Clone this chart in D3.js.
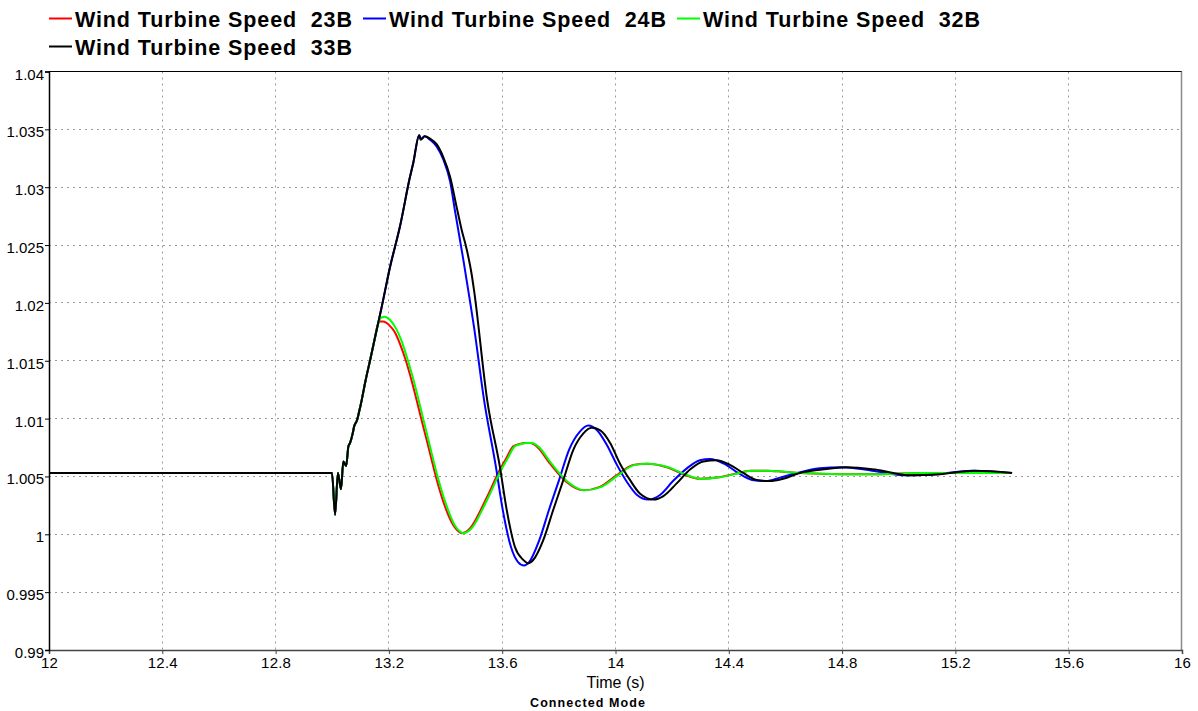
<!DOCTYPE html>
<html>
<head>
<meta charset="utf-8">
<script src="https://cdn.jsdelivr.net/npm/d3@7"></script>
<style>
  html, body { margin: 0; padding: 0; background: #fff; }
  svg { display: block; font-family: "Liberation Sans", Arial, sans-serif; }
</style>
</head>
<body>
<svg id="chart" width="1198" height="711"></svg>
<script>
// ---- data -------------------------------------------------------------
const seriesNames = ["Wind Turbine Speed  23B", "Wind Turbine Speed  24B",
                     "Wind Turbine Speed  32B", "Wind Turbine Speed  33B"];
const seriesColors = ["#ff0000", "#0000ff", "#00ff00", "#000000"];

const xTicks = [12, 12.4, 12.8, 13.2, 13.6, 14, 14.4, 14.8, 15.2, 15.6, 16];
const xTickLabels = ["12", "12.4", "12.8", "13.2", "13.6", "14", "14.4", "14.8", "15.2", "15.6", "16"];
const yTicks = [0.99, 0.995, 1, 1.005, 1.01, 1.015, 1.02, 1.025, 1.03, 1.035, 1.04];
const yTickLabels = ["0.99", "0.995", "1", "1.005", "1.01", "1.015", "1.02", "1.025", "1.03", "1.035", "1.04"];

// common part of all four traces: steady state, fault dip and initial rise
const leadTime  = [12.0, 12.999, 13.010, 13.020, 13.031, 13.039, 13.049, 13.057, 13.063,
                   13.072, 13.077, 13.088, 13.094, 13.104, 13.116, 13.135, 13.150];
const leadSpeed = [1.0053, 1.0053, 1.0017, 1.0053, 1.0039, 1.0063, 1.0059, 1.0076, 1.0079,
                   1.0087, 1.0093, 1.0099, 1.0105, 1.0116, 1.0131, 1.0152, 1.0169];

const time23B  = [13.158, 13.168, 13.179, 13.19, 13.20, 13.22, 13.24, 13.26, 13.28, 13.31,
                  13.339, 13.369, 13.398, 13.427, 13.443, 13.457, 13.472, 13.486, 13.505, 13.522,
                  13.55, 13.592, 13.615, 13.639, 13.66, 13.680, 13.70, 13.722, 13.769, 13.828,
                  13.886, 13.945, 14.004, 14.063, 14.110, 14.181, 14.239, 14.298, 14.357, 14.416,
                  14.475, 14.534, 14.592, 14.651, 14.793, 14.934, 15.075, 15.216, 15.40];
const speed23B = [1.0179, 1.0184, 1.0184, 1.0183, 1.0181, 1.0175, 1.0164, 1.0150, 1.0133, 1.0104,
                  1.0076, 1.0047, 1.0024, 1.0008, 1.0003, 1.0001, 1.0002, 1.0005, 1.0012, 1.0020,
                  1.0034, 1.0056, 1.0066, 1.0076, 1.0078, 1.0079, 1.0079, 1.0076, 1.0061, 1.0045,
                  1.0038, 1.0041, 1.0051, 1.0060, 1.0061, 1.0058, 1.0052, 1.0048, 1.0049, 1.0052,
                  1.0055, 1.0055, 1.0054, 1.0053, 1.0052, 1.0052, 1.0053, 1.0053, 1.0053];

const time32B  = [13.160, 13.172, 13.184, 13.195, 13.205, 13.225, 13.245, 13.265, 13.285, 13.315,
                  13.344, 13.374, 13.403, 13.432, 13.448, 13.462, 13.477, 13.491, 13.510, 13.527,
                  13.555, 13.597, 13.620, 13.644, 13.665, 13.685, 13.705, 13.727, 13.774, 13.833,
                  13.891, 13.950, 14.009, 14.068, 14.115, 14.186, 14.244, 14.303, 14.362, 14.421,
                  14.480, 14.539, 14.597, 14.656, 14.798, 14.939, 15.080, 15.221, 15.40];
const speed32B = [1.0180, 1.0187, 1.0188, 1.0187, 1.0185, 1.0178, 1.0167, 1.0152, 1.0135, 1.0106,
                  1.0077, 1.0048, 1.0025, 1.0008, 1.0003, 1.0001, 1.0002, 1.0005, 1.0012, 1.0020,
                  1.0034, 1.0056, 1.0066, 1.0076, 1.0078, 1.0079, 1.0079, 1.0076, 1.0061, 1.0045,
                  1.0038, 1.0041, 1.0051, 1.0060, 1.0061, 1.0058, 1.0052, 1.0048, 1.0049, 1.0052,
                  1.0055, 1.0055, 1.0054, 1.0053, 1.0052, 1.0052, 1.0053, 1.0053, 1.0053];

const time24B  = [13.175, 13.204, 13.239, 13.2745, 13.286, 13.307, 13.312, 13.327, 13.345, 13.369,
                  13.392, 13.416, 13.433, 13.463, 13.484, 13.50, 13.536, 13.578, 13.602, 13.631,
                  13.656, 13.677, 13.695, 13.731, 13.765, 13.801, 13.836, 13.875, 13.904, 13.935,
                  13.970, 14.005, 14.041, 14.076, 14.116, 14.157, 14.203, 14.252, 14.298, 14.334,
                  14.383, 14.433, 14.482, 14.531, 14.581, 14.641, 14.72, 14.800, 14.906, 15.026,
                  15.135, 15.259, 15.40];
const speed24B = [1.0197, 1.0231, 1.0266, 1.0309, 1.0321, 1.0345, 1.0342, 1.0344, 1.0341, 1.0335,
                  1.0324, 1.0305, 1.0280, 1.0237, 1.0205, 1.0180, 1.0116, 1.0058, 1.0021, 0.9989,
                  0.9976, 0.9973, 0.9976, 0.9995, 1.0021, 1.0047, 1.0073, 1.0089, 1.0094, 1.0090,
                  1.0077, 1.0060, 1.0045, 1.0034, 1.0030, 1.0034, 1.0046, 1.0057, 1.0064, 1.0065,
                  1.0061, 1.0053, 1.0047, 1.0046, 1.0049, 1.0053, 1.0057, 1.0058, 1.0055, 1.0051,
                  1.0052, 1.0055, 1.0053];

const time33B  = [13.175, 13.204, 13.239, 13.2745, 13.286, 13.307, 13.312, 13.327, 13.345, 13.369,
                  13.392, 13.416, 13.439, 13.457, 13.475, 13.492, 13.5005, 13.547, 13.592, 13.616,
                  13.645, 13.674, 13.692, 13.710, 13.745, 13.780, 13.816, 13.851, 13.886, 13.916,
                  13.945, 13.981, 14.016, 14.051, 14.087, 14.134, 14.169, 14.216, 14.263, 14.310,
                  14.357, 14.404, 14.451, 14.498, 14.545, 14.592, 14.651, 14.73, 14.814, 14.916,
                  15.040, 15.146, 15.269, 15.40];
const speed33B = [1.0197, 1.0231, 1.0266, 1.0309, 1.0321, 1.0345, 1.0341, 1.0344, 1.0342, 1.0337,
                  1.0326, 1.0309, 1.0283, 1.0263, 1.0246, 1.0225, 1.0211, 1.0116, 1.0058, 1.0021,
                  0.9989, 0.9978, 0.9975, 0.9978, 0.9995, 1.0021, 1.0047, 1.0073, 1.0087, 1.0092,
                  1.0090, 1.0079, 1.0061, 1.0047, 1.0035, 1.0030, 1.0033, 1.0044, 1.0056, 1.0063,
                  1.0064, 1.0060, 1.0053, 1.0047, 1.0046, 1.0048, 1.0053, 1.0056, 1.0058, 1.0056,
                  1.0051, 1.0052, 1.0055, 1.0053];

const seriesTimes  = [time23B, time24B, time32B, time33B];
const seriesSpeeds = [speed23B, speed24B, speed32B, speed33B];

// ---- layout -----------------------------------------------------------
const svg = d3.select("#chart");
const plot = { left: 49, right: 1182, top: 71.5, bottom: 650 };

const x = d3.scaleLinear().domain([12, 16]).range([plot.left, plot.right]);
const y = d3.scaleLinear().domain([0.99, 1.04]).range([plot.bottom, plot.top]);
const crisp = v => Math.round(v - 0.5) + 0.5;

// dotted grid
const grid = svg.append("g")
  .attr("stroke", "#9a9a9a")
  .attr("stroke-width", 1)
  .attr("stroke-dasharray", "2,4");
grid.selectAll("line.v")
  .data(xTicks.slice(1, -1))
  .join("line")
  .attr("x1", d => crisp(x(d))).attr("x2", d => crisp(x(d)))
  .attr("y1", plot.top).attr("y2", plot.bottom);
grid.selectAll("line.h")
  .data(yTicks.slice(1, -1))
  .join("line")
  .attr("y1", d => crisp(y(d))).attr("y2", d => crisp(y(d)))
  .attr("x1", plot.left).attr("x2", plot.right);

// clip the traces to the plotting area
svg.append("clipPath").attr("id", "plotClip")
  .append("rect")
  .attr("x", plot.left).attr("y", plot.top)
  .attr("width", plot.right - plot.left).attr("height", plot.bottom - plot.top);

const line = d3.line()
  .x(d => x(d[0]))
  .y(d => y(d[1]))
  .curve(d3.curveMonotoneX);

const traces = svg.append("g").attr("clip-path", "url(#plotClip)");
seriesNames.forEach((name, i) => {
  const pts = leadTime.map((t, k) => [t, leadSpeed[k]])
    .concat(seriesTimes[i].map((t, k) => [t, seriesSpeeds[i][k]]));
  traces.append("path")
    .datum(pts)
    .attr("fill", "none")
    .attr("stroke", seriesColors[i])
    .attr("stroke-width", 2)
    .attr("stroke-linejoin", "round")
    .attr("d", line);
});

// frame
svg.append("line")
  .attr("x1", plot.left).attr("x2", plot.right)
  .attr("y1", plot.top).attr("y2", plot.top)
  .attr("stroke", "#000");
svg.append("line")
  .attr("x1", plot.right - 0.5).attr("x2", plot.right - 0.5)
  .attr("y1", plot.top).attr("y2", plot.bottom)
  .attr("stroke", "#8a8a8a").attr("stroke-width", 1.5);

// axes
const xAxis = d3.axisBottom(x)
  .tickValues(xTicks)
  .tickSize(4)
  .tickPadding(3)
  .tickFormat((d, i) => xTickLabels[i]);
const gx = svg.append("g")
  .attr("transform", `translate(0,${plot.bottom})`)
  .call(xAxis);
gx.select(".domain").attr("stroke", "#444").attr("stroke-width", 1.5);
gx.selectAll(".tick line").attr("stroke", "#444");
gx.selectAll(".tick text")
  .attr("fill", "#000")
  .style("font-size", "15px")
  .style("letter-spacing", "0.2px");

const yAxis = d3.axisLeft(y)
  .tickValues(yTicks)
  .tickSize(4)
  .tickPadding(1)
  .tickFormat((d, i) => yTickLabels[i]);
const gy = svg.append("g")
  .attr("transform", `translate(${plot.left},0)`)
  .call(yAxis);
gy.select(".domain").attr("stroke", "#000").attr("stroke-width", 1.5);
gy.selectAll(".tick line").attr("stroke", "#000");
gy.selectAll(".tick text")
  .attr("fill", "#000")
  .attr("dy", "0.5em")
  .style("font-size", "15px");

// axis titles
svg.append("text")
  .attr("x", x(14)).attr("y", 688)
  .attr("text-anchor", "middle")
  .style("font-size", "16px")
  .text("Time (s)");
svg.append("text")
  .attr("x", 587.5).attr("y", 707)
  .attr("text-anchor", "middle")
  .style("font-size", "12.5px")
  .style("font-weight", "bold")
  .attr("textLength", 115)
  .attr("lengthAdjust", "spacing")
  .text("Connected Mode");

// legend
const legendPos = [[49, 0], [363, 0], [677, 0], [49, 1]];
const legend = svg.append("g");
seriesNames.forEach((name, i) => {
  const [lx, row] = legendPos[i];
  const rowY = 19 + row * 28;
  legend.append("line")
    .attr("x1", lx).attr("x2", lx + 23)
    .attr("y1", rowY - 0.5).attr("y2", rowY - 0.5)
    .attr("stroke", seriesColors[i]).attr("stroke-width", 2);
  legend.append("text")
    .attr("x", lx + 26).attr("y", rowY + 8)
    .style("font-size", "21.5px")
    .style("font-weight", "bold")
    .style("white-space", "pre")
    .attr("textLength", 277)
    .attr("lengthAdjust", "spacing")
    .text(name);
});
</script>
</body>
</html>
